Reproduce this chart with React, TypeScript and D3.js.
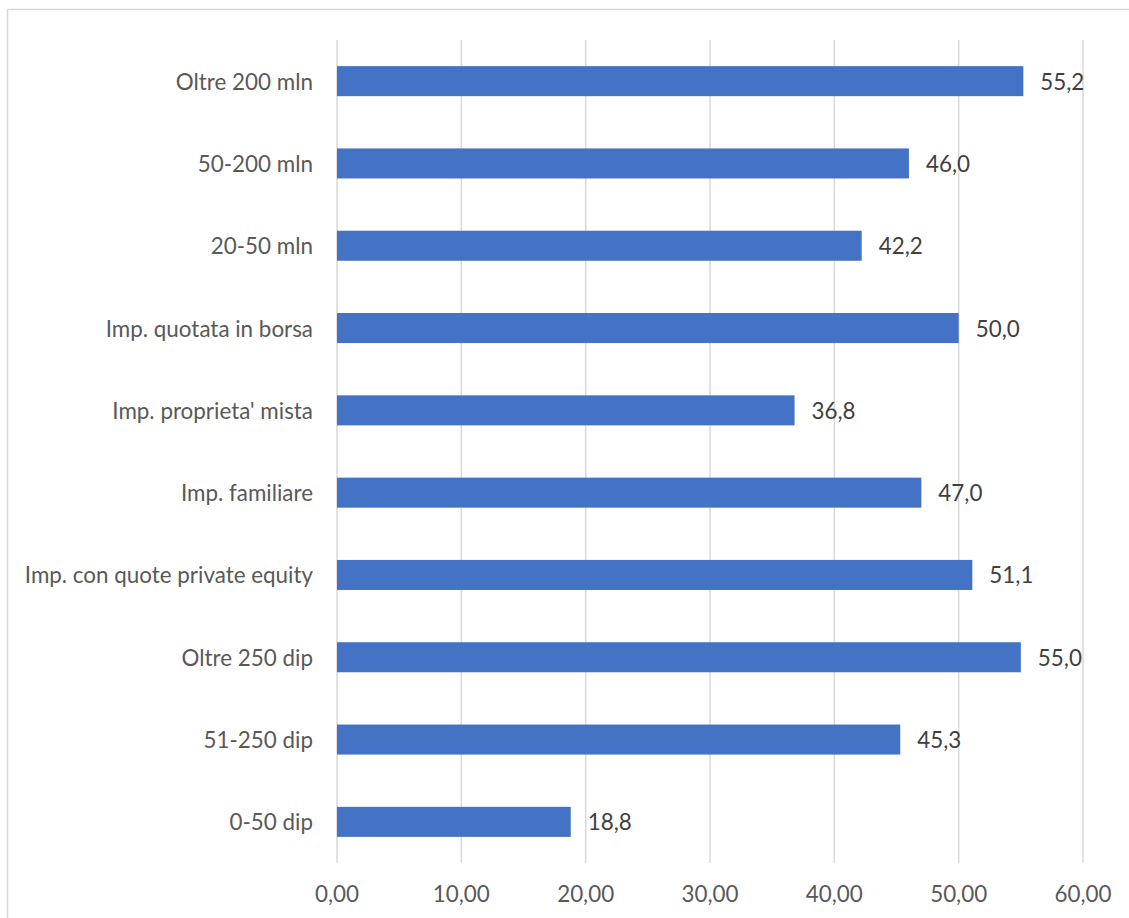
import React from "react";
import * as d3 from "d3";

const categories = [
  "Oltre 200 mln",
  "50-200 mln",
  "20-50 mln",
  "Imp. quotata in borsa",
  "Imp. proprieta' mista",
  "Imp. familiare",
  "Imp. con quote private equity",
  "Oltre 250 dip",
  "51-250 dip",
  "0-50 dip",
];
const values = [55.2, 46.0, 42.2, 50.0, 36.8, 47.0, 51.1, 55.0, 45.3, 18.8];
const ticks = [0, 10, 20, 30, 40, 50, 60];

const W = 1129;
const H = 918;
const FONT = "Lato, 'Open Sans', sans-serif";

export default function App() {
  const x = d3.scaleLinear().domain([0, 60]).range([337, 1083]);
  const y = d3
    .scaleBand<string>()
    .domain(categories)
    .range([40, 863])
    .paddingInner(0.635)
    .paddingOuter(0.3175);
  const fmtTick = (v: number) => d3.format(".2f")(v).replace(".", ",");
  const fmtVal = (v: number) => d3.format(".1f")(v).replace(".", ",");

  return (
    <div style={{ position: "absolute", left: 0, top: 0 }}>
      <svg width={W} height={H} style={{ display: "block", background: "#fff" }}>
        <line x1={7.5} y1={9.5} x2={W} y2={9.5} stroke="#D9D9D9" strokeWidth={1.5} />
        <line x1={7.5} y1={9.5} x2={7.5} y2={H} stroke="#D9D9D9" strokeWidth={1.5} />
        {ticks.map((t) => (
          <g key={t}>
            <line x1={x(t)} x2={x(t)} y1={40} y2={863} stroke="#D9D9D9" strokeWidth={1.5} />
            <text
              x={x(t)}
              y={893}
              textAnchor="middle"
              dominantBaseline="central"
              fontFamily={FONT}
              fontSize={22.4}
              fill="#595959"
            >
              {fmtTick(t)}
            </text>
          </g>
        ))}
        {categories.map((c, i) => {
          const yc = (y(c) as number) + y.bandwidth() / 2;
          return (
            <g key={c}>
              <rect
                x={x(0)}
                y={y(c) as number}
                width={x(values[i]) - x(0)}
                height={y.bandwidth()}
                fill="#4472C4"
              />
              <text
                x={313}
                y={yc}
                textAnchor="end"
                dominantBaseline="central"
                fontFamily={FONT}
                fontSize={22.4}
                fill="#595959"
              >
                {c}
              </text>
              <text
                x={x(values[i]) + 17}
                y={yc}
                dominantBaseline="central"
                fontFamily={FONT}
                fontSize={22.4}
                fill="#404040"
              >
                {fmtVal(values[i])}
              </text>
            </g>
          );
        })}
      </svg>
    </div>
  );
}
